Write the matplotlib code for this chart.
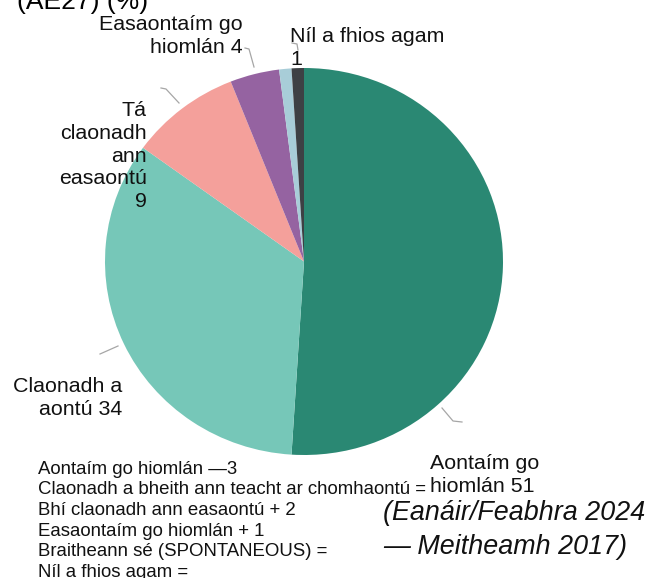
import matplotlib
matplotlib.use("Agg")
import matplotlib.pyplot as plt

plt.rcParams['font.family'] = ['Liberation Sans', 'DejaVu Sans']

# Slices, clockwise from 12 o'clock
categories = ['Aontaím go\nhiomlán', 'Claonadh a\naontú', 'Tá\nclaonadh\nann\neasaontú',
              'Easaontaím go\nhiomlán', 'Braitheann sé', 'Níl a fhios agam']
values = [51, 34, 9, 4, 1, 1]
colors = ['#2a8873', '#76c7b8', '#f4a09b', '#9563a1', '#a8cdd8', '#3d4044']

# Change since previous wave (notes under the chart)
note_labels = ['Aontaím go hiomlán —3',
               'Claonadh a bheith ann teacht ar chomhaontú =',
               'Bhí claonadh ann easaontú + 2',
               'Easaontaím go hiomlán + 1',
               'Braitheann sé (SPONTANEOUS) =',
               'Níl a fhios agam =']

W, H = 648, 578
fig = plt.figure(figsize=(W / 100, H / 100), dpi=100)

# pie axes placed on the pie's bounding box (pixels: x 105-503, y 68-455)
px0, px1, py0, py1 = 105, 503, 68, 455
pax = fig.add_axes([px0 / W, 1 - py1 / H, (px1 - px0) / W, (py1 - py0) / H])
pax.pie(values, colors=colors, startangle=90, counterclock=False, radius=1,
        wedgeprops=dict(linewidth=0))
pax.set_aspect('auto')
pax.set_xlim(-1, 1)
pax.set_ylim(-1, 1)
pax.axis('off')

# overlay in pixel coordinates for text and leader lines
ax = fig.add_axes([0, 0, 1, 1])
ax.set_xlim(0, W)
ax.set_ylim(H, 0)
ax.axis('off')

ax.text(17, 9, '(AE27) (%)', fontsize=19, va='baseline', ha='left')

lab_fs = 15.4
# label text anchors (x, baseline of last line, alignment)
label_pos = [(430, 492, 'left'), (122, 415, 'right'), (147, 207, 'right'),
             (243, 53, 'right'), None, (290, 65, 'left')]
for cat, v, pos in zip(categories, values, label_pos):
    if pos is None:
        continue
    x, y, ha = pos
    if cat.count('\n') >= 2 or cat.startswith('Níl'):
        txt = f'{cat}\n{v}'
    else:
        txt = f'{cat} {v}'
    ax.text(x, y, txt, fontsize=lab_fs, ha=ha, va='baseline', linespacing=1.25,
            multialignment=ha, color='#111111')

leaders = [
    [(442, 408), (453, 421), (462, 422)],
    [(100, 354), (118, 346)],
    [(161, 88), (166, 89), (179, 103)],
    [(245, 48), (249, 49), (254, 67)],
    [(292, 43), (297, 44), (298, 50)],
]
for pts in leaders:
    xs, ys = zip(*pts)
    ax.plot(xs, ys, color='#a6a6a6', lw=0.9)

ax.text(38, 577, '\n'.join(note_labels), fontsize=13.45, ha='left', va='baseline',
        linespacing=1.28, color='#111111')

ax.text(383, 554, '(Eanáir/Feabhra 2024\n— Meitheamh 2017)', fontsize=19.4,
        style='italic', ha='left', va='baseline', linespacing=1.38, color='#111111')

fig.savefig('out.png', dpi=100)
